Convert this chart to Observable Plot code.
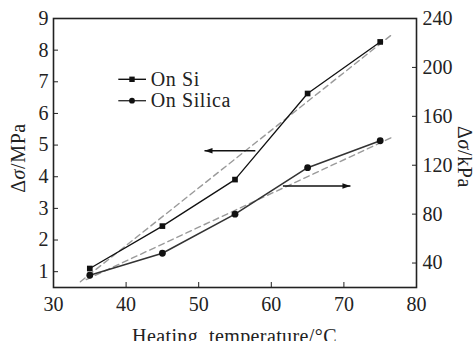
<!DOCTYPE html>
<html><head><meta charset="utf-8">
<script src="https://cdn.jsdelivr.net/npm/d3@7"></script>
<script src="https://cdn.jsdelivr.net/npm/@observablehq/plot@0.6"></script>
<style>body{margin:0;background:#fff;}</style>
</head><body><div id="chart"></div>
<script>
// ---- data ----
const temps = [35, 45, 55, 65, 75];
const siMPa = [1.10, 2.44, 3.91, 6.63, 8.26];
const silicaKPa = [30, 48, 80, 118, 140];
const siFitX = [33.7, 76.6];
const siFitMPa = [0.68, 8.49];
const silicaFitX = [34.5, 76.6];
const silicaFitKPa = [26.5, 142.7];
const xTicks = [30, 40, 50, 60, 70, 80];
const leftTicks = [1, 2, 3, 4, 5, 6, 7, 8, 9];
const rightTicks = [40, 80, 120, 160, 200, 240];
const xDomain = [30, 80];
const leftDomain = [0.5, 9];
const rightDomain = [20, 240];
const arrowLeftX = [57.8, 50.8];
const arrowLeftMPa = 4.82;
const arrowRightX = [61.6, 70.9];
const arrowRightKPa = 103;
const seriesNames = ["On Si", "On Silica"];
const xTitle = "Heating  temperature/°C";
const leftTitle = ["Δ", "σ", "/MPa"];
const rightTitle = ["Δ", "σ", "/kPa"];

// ---- helpers: map kPa (right axis) onto the left-axis scale ----
const k2m = k => leftDomain[0] + (k - rightDomain[0]) * (leftDomain[1] - leftDomain[0]) / (rightDomain[1] - rightDomain[0]);
const m2k = m => rightDomain[0] + (m - leftDomain[0]) * (rightDomain[1] - rightDomain[0]) / (leftDomain[1] - leftDomain[0]);

const siData = temps.map((t, i) => ({t, v: siMPa[i]}));
const silicaData = temps.map((t, i) => ({t, v: k2m(silicaKPa[i])}));
const siFit = siFitX.map((t, i) => ({t, v: siFitMPa[i]}));
const silicaFit = silicaFitX.map((t, i) => ({t, v: k2m(silicaFitKPa[i])}));
const arrows = [
  {x1: arrowLeftX[0], x2: arrowLeftX[1], y: arrowLeftMPa},
  {x1: arrowRightX[0], x2: arrowRightX[1], y: k2m(arrowRightKPa)}
];

// filled arrowhead symbol, tip at the origin, pointing right
const arrowHead = {
  draw(ctx) {
    ctx.moveTo(0, 0);
    ctx.lineTo(-8, -2.8);
    ctx.lineTo(-8, 2.8);
    ctx.closePath();
  }
};

const FONT = "'Liberation Serif', 'Times New Roman', serif";
const INK = "#222";

function annotations(index, scales, values, dims) {
  const ml = dims.marginLeft, mt = dims.marginTop, mr = dims.marginRight;
  const W = dims.width, H = dims.height;
  const g = d3.create("svg:g")
    .style("font-family", FONT).style("font-size", "20px").attr("fill", INK);
  // legend
  const rows = [{y: mt + 61.3, sym: "square"}, {y: mt + 82.7, sym: "circle"}];
  rows.forEach((r, i) => {
    g.append("line").attr("x1", ml + 65.3).attr("x2", ml + 93).attr("y1", r.y).attr("y2", r.y)
      .attr("stroke", i === 0 ? "#111" : "#333").attr("stroke-width", 1.4);
    if (r.sym === "square") {
      g.append("rect").attr("x", ml + 79 - 2.7).attr("y", r.y - 2.7).attr("width", 5.4).attr("height", 5.4).attr("fill", "#111");
    } else {
      g.append("circle").attr("cx", ml + 79).attr("cy", r.y).attr("r", 2.9).attr("fill", "#111");
    }
    g.append("text").attr("x", ml + 97.7).attr("y", r.y + 6.5)
      .attr("text-anchor", "start").style("letter-spacing", "0.6px")
      .text(seriesNames[i]);
  });
  // x title
  g.append("text").attr("x", ml + (W - ml - mr) / 2).attr("y", H + 1.5)
    .attr("text-anchor", "middle").style("letter-spacing", "0.4px").style("white-space", "pre").text(xTitle);
  // left title
  const lt = g.append("text").attr("transform", `translate(${ml - 28},${mt + 140}) rotate(-90)`)
    .attr("text-anchor", "middle").style("letter-spacing", "0.6px");
  lt.append("tspan").text(leftTitle[0]);
  lt.append("tspan").attr("font-style", "italic").text(leftTitle[1]);
  lt.append("tspan").text(leftTitle[2]);
  // right title
  const rt = g.append("text").attr("transform", `translate(${W - mr + 42},${mt + 139}) rotate(90)`)
    .attr("text-anchor", "middle").style("letter-spacing", "0.6px");
  rt.append("tspan").text(rightTitle[0]);
  rt.append("tspan").attr("font-style", "italic").text(rightTitle[1]);
  rt.append("tspan").text(rightTitle[2]);
  return g.node();
}

const chart = Plot.plot({
  width: 475,
  height: 341,
  marginLeft: 53,
  marginRight: 59,
  marginTop: 18,
  marginBottom: 54,
  style: `font-family: ${FONT}; font-size: 20px; background: #fff; color: ${INK}; overflow: hidden;`,
  x: {domain: xDomain},
  y: {domain: leftDomain},
  marks: [
    // fitted dashed lines
    Plot.line(siFit, {x: "t", y: "v", stroke: "#9a9a9a", strokeWidth: 1.4, strokeDasharray: "6,4"}),
    Plot.line(silicaFit, {x: "t", y: "v", stroke: "#9a9a9a", strokeWidth: 1.4, strokeDasharray: "6,4"}),
    // series
    Plot.line(siData, {x: "t", y: "v", stroke: "#111", strokeWidth: 1.3}),
    Plot.line(silicaData, {x: "t", y: "v", stroke: "#333", strokeWidth: 1.6}),
    Plot.dot(siData, {x: "t", y: "v", symbol: "square", r: 3.2, fill: "#111", stroke: "none"}),
    Plot.dot(silicaData, {x: "t", y: "v", symbol: "circle", r: 3.4, fill: "#111", stroke: "none"}),
    // arrows: shaft + filled head
    Plot.link(arrows, {x1: "x1", x2: "x2", y1: "y", y2: "y", stroke: "#111", strokeWidth: 1.4}),
    Plot.dot(arrows, {x: "x2", y: "y", symbol: arrowHead, rotate: d => (d.x2 < d.x1 ? 180 : 0), fill: "#111", stroke: "none"}),
    // axes: inward ticks
    Plot.axisX(xTicks, {anchor: "bottom", tickSize: 5, dy: -5, fill: "none", stroke: INK, label: null}),
    Plot.axisY(leftTicks, {anchor: "left", tickSize: 5, dx: 5, fill: "none", stroke: INK, label: null}),
    Plot.axisY(rightTicks.map(k2m), {anchor: "right", tickSize: 5, dx: -5, fill: "none", stroke: INK, label: null}),
    // axes: labels
    Plot.axisX(xTicks, {anchor: "bottom", tickSize: 0, tickPadding: 9, fill: INK, label: null}),
    Plot.axisY(leftTicks, {anchor: "left", tickSize: 0, tickPadding: 5, fill: INK, label: null}),
    Plot.axisY(rightTicks.map(k2m), {anchor: "right", tickSize: 0, tickPadding: 6, fill: INK, label: null,
      tickFormat: d => String(Math.round(m2k(d)))}),
    Plot.frame({stroke: INK, strokeWidth: 1.6}),
    annotations
  ]
});
document.getElementById("chart").append(chart);
</script>
</body></html>
